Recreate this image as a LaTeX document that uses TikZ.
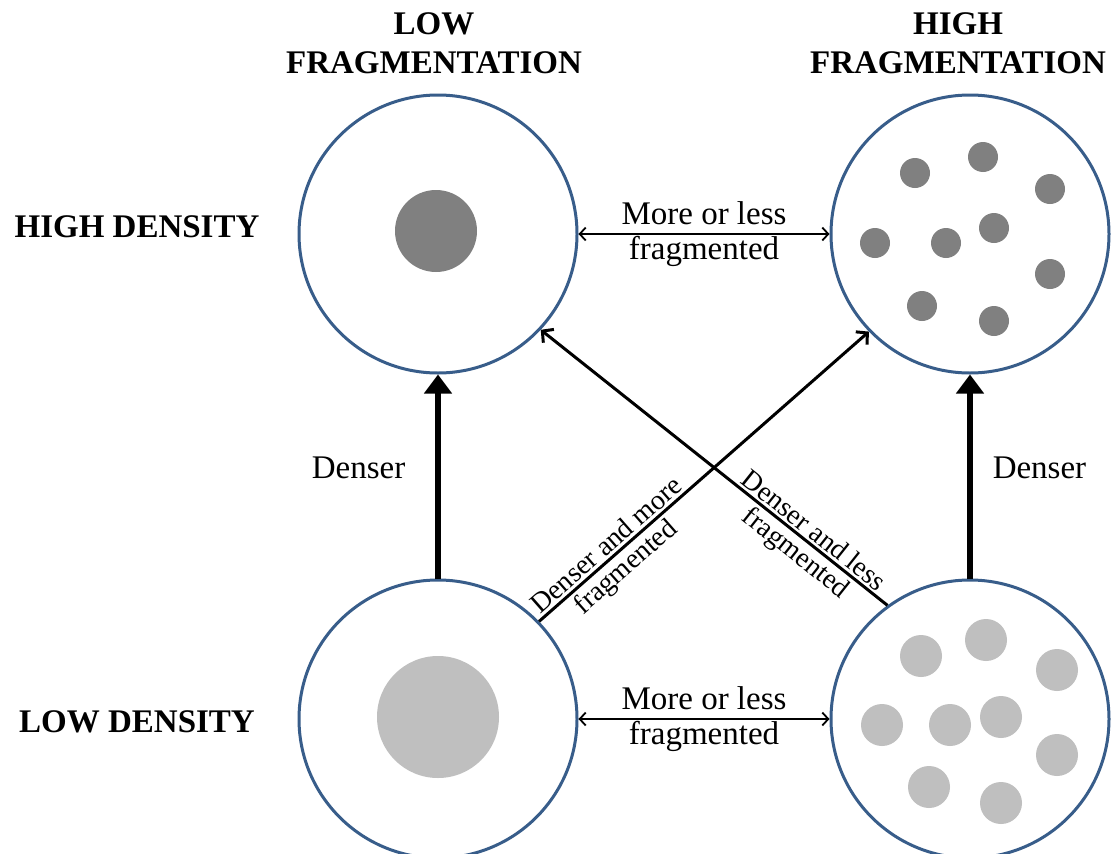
\documentclass[tikz,border=0pt]{standalone}
\usepackage{fontspec}
\setmainfont{Liberation Serif}
\usetikzlibrary{arrows.meta}
\definecolor{ringblue}{HTML}{385D8A}
\definecolor{darkdot}{HTML}{808080}
\definecolor{lightdot}{HTML}{BFBFBF}
\tikzset{
  ring/.style={circle, draw=ringblue, line width=3pt, fill=white, minimum size=278pt, inner sep=0pt},
  heading/.style={font=\bfseries\fontsize{33}{39}\selectfont, align=center, inner sep=0pt},
  lbl/.style={font=\fontsize{33}{35}\selectfont, align=center, inner sep=0pt},
  diaglbl/.style={font=\fontsize{28}{30}\selectfont, inner sep=0pt, sloped},
  thickarrow/.style={line width=5.5pt, -{Triangle[length=19pt,width=27pt]}},
  diagarrow/.style={line width=3pt, -{Straight Barb[length=8pt,width=17pt]}},
  hortarrow/.style={line width=1.8pt, {Straight Barb[length=6pt,width=13pt]}-{Straight Barb[length=6pt,width=13pt]}},
  darkblob/.style={fill=darkdot},
  lightblob/.style={fill=lightdot}
}
\begin{document}
\begin{tikzpicture}[x=1pt,y=-1pt]
\useasboundingbox[fill=white] (0,0) rectangle (1114,854);

% headings
\node[heading] (hlow) at (434,43.6) {LOW\\FRAGMENTATION};
\node[heading] (hhigh) at (958,43.6) {HIGH\\FRAGMENTATION};
\node[heading] (hdens) at (137,227) {HIGH DENSITY};
\node[heading] (ldens) at (137,722) {LOW DENSITY};

% circles
\node[ring] (tl) at (438,234) {};
\node[ring] (tr) at (970,234) {};
\node[ring] (bl) at (438,719) {};
\node[ring] (br) at (970,719) {};

% blobs
\fill[darkblob] (436,231) circle (41);
\fill[lightblob] (438,717) circle (61);

\foreach \p in {(915,173),(983,157),(1050,189),(875,243),(946,243),(994,228),(1050,274),(922,306),(994,321)}
  \fill[darkblob] \p circle (15);
\foreach \p in {(921,656),(986,640),(1057,670),(882,725),(950,725),(1001,717),(1057,755),(929,787),(1001,803)}
  \fill[lightblob] \p circle (21);

% connectors
\draw[hortarrow] (tl) -- node[lbl, midway] {More or less\\fragmented} (tr);
\draw[hortarrow] (bl) -- node[lbl, midway] {More or less\\fragmented} (br);

\draw[thickarrow] (bl) -- node[lbl, midway, anchor=east, xshift=-30pt, yshift=8.5pt] {Denser} (tl);
\draw[thickarrow] (br) -- node[lbl, midway, anchor=west, xshift=20pt, yshift=8.5pt] {Denser} (tr);

\draw[diagarrow] (bl.44) -- node[diaglbl, pos=0.23, above=2.5pt] {Denser and more}
                            node[diaglbl, pos=0.23, below=3pt] {fragmented} (tr.-136);
\draw[diagarrow] (br.126) -- node[diaglbl, pos=0.235, above=2.5pt] {Denser and less}
                             node[diaglbl, pos=0.235, below=3pt] {fragmented} (tl.-43);
\end{tikzpicture}
\end{document}
